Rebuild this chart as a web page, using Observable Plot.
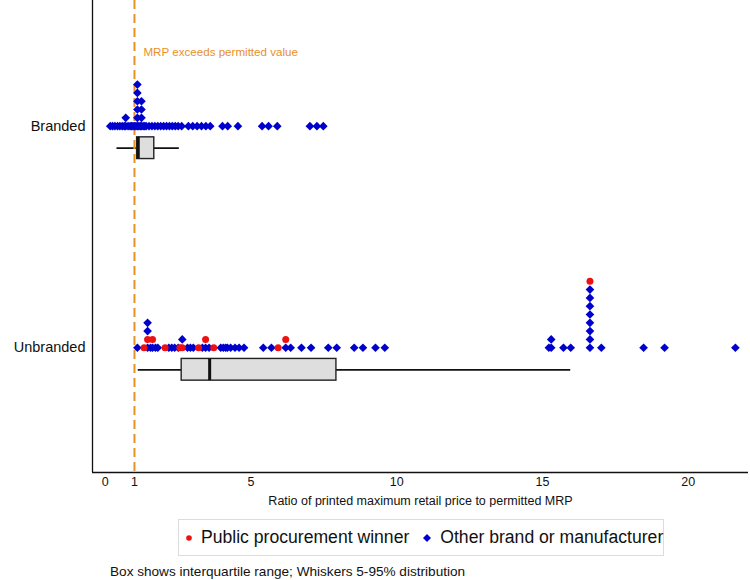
<!DOCTYPE html>
<html>
<head>
<meta charset="utf-8">
<script src="https://cdn.jsdelivr.net/npm/d3@7"></script>
<script src="https://cdn.jsdelivr.net/npm/@observablehq/plot@0.6"></script>
<style>
  html, body { margin: 0; padding: 0; background: #fff; }
  body { font-family: "Liberation Sans", Arial, Helvetica, sans-serif; color: #111; }
  #page { position: relative; width: 750px; height: 580px; }
  #chart { position: absolute; left: 0; top: 0; }
  .legend {
    position: absolute; left: 178px; top: 519px; width: 486px; height: 37px;
    border: 1px solid #dcdcdc; box-sizing: border-box;
    display: flex; align-items: center; font-size: 17.6px; white-space: nowrap;
  }
  .legend .item { display: flex; align-items: center; }
  .legend svg { display: block; }
  .caption { position: absolute; left: 110px; top: 564px; font-size: 13.6px; }
</style>
</head>
<body>
<div id="page">
  <div id="chart"></div>
  <div class="legend" id="legend"></div>
  <div class="caption">Box shows interquartile range; Whiskers 5-95% distribution</div>
</div>
<script>
// Row categories (top to bottom)
const rowNames = ["Branded", "Unbranded"];

// Branded products: ratio of printed MRP to permitted MRP (all other brands)
const brandedRatio = [
  0.17, 0.25, 0.33, 0.42, 0.5, 0.58, 0.65, 0.7, 0.7, 0.78, 0.85, 0.9, 0.95, 1.0, 1.05,
  1.1, 1.1, 1.1, 1.1, 1.1, 1.1, 1.15, 1.2, 1.24, 1.24, 1.24, 1.24,
  1.3, 1.35, 1.4, 1.5, 1.6, 1.7, 1.8, 1.9, 2.0, 2.1, 2.2, 2.3, 2.4, 2.5, 2.62,
  2.85, 3.0, 3.15, 3.3, 3.45, 3.6, 4.02, 4.2, 4.55, 5.38, 5.6, 5.9, 7.02, 7.26, 7.48
];

// Unbranded products: ratio and supplier type, in stacking order
const unbrandedRatio = [
  1.1, 1.33, 1.45, 1.45, 1.45, 1.45, 1.55, 1.62, 1.62, 1.72, 1.8, 2.05,
  2.18, 2.28, 2.38, 2.5, 2.56, 2.64, 2.64, 2.82, 2.92, 3.02, 3.2, 3.33,
  3.44, 3.44, 3.56, 3.72, 3.96, 4.05, 4.13, 4.19, 4.3, 4.45, 4.59, 4.76,
  5.42, 5.7, 5.93, 6.19, 6.19, 6.36, 6.73, 7.06, 7.65, 7.94, 8.54, 8.84,
  9.27, 9.59, 15.22, 15.3, 15.3, 15.72, 15.97,
  16.63, 16.63, 16.63, 16.63, 16.63, 16.63, 16.63, 16.63, 16.63,
  17.02, 18.47, 19.19, 21.62
];
const unbrandedSource = [
  "other", "winner", "other", "winner", "other", "other", "other", "other", "winner", "other", "other", "winner",
  "other", "other", "other", "other", "winner", "winner", "other", "other", "other", "other", "winner", "other",
  "other", "winner", "other", "winner", "other", "other", "other", "other", "other", "other", "other", "other",
  "other", "other", "winner", "other", "winner", "other", "other", "other", "other", "other", "other", "other",
  "other", "other", "other", "other", "other", "other", "other",
  "other", "other", "other", "other", "other", "other", "other", "other", "winner",
  "other", "other", "other", "other"
];

// Box summaries per row: 5th pct, quartiles, median, 95th pct
const boxP5     = [0.40, 1.13];
const boxQ1     = [1.09, 2.62];
const boxMedian = [1.13, 3.58];
const boxQ3     = [1.68, 7.93];
const boxP95    = [2.54, 15.97];

const xTicks = [0, 1, 5, 10, 15, 20];
const permittedRatio = 1;

const sourceLabels = { winner: "Public procurement winner", other: "Other brand or manufacturer" };
const colors = { winner: "#EE1111", other: "#0000CD", threshold: "#E8902A" };

// Layout constants (row units on the vertical scale)
const X_DOMAIN = [-0.44, 22.07];
const Y_DOMAIN = [-0.567, 1.563];
const LEVEL_STEP = 0.0375;   // vertical spacing of stacked identical values
const BOX_OFFSET = 0.0995;   // box sits just below each row of dots
const BOX_HALF = 0.049;

// Stack repeated values upward, in the order given
function stackRow(ratios, sources, row) {
  const seen = new Map();
  return ratios.map((x, i) => {
    const level = seen.get(x) ?? 0;
    seen.set(x, level + 1);
    return { row, x, source: sources[i], level };
  });
}

const points = [
  ...stackRow(brandedRatio, brandedRatio.map(() => "other"), 0),
  ...stackRow(unbrandedRatio, unbrandedSource, 1)
];
const others = points.filter(d => d.source === "other");
const winners = points.filter(d => d.source === "winner");

const boxes = rowNames.map((name, i) => ({
  row: i, p5: boxP5[i], q1: boxQ1[i], median: boxMedian[i], q3: boxQ3[i], p95: boxP95[i]
}));

const dotY = d => d.row - d.level * LEVEL_STEP;
const boxTop = d => d.row + BOX_OFFSET - BOX_HALF;
const boxBottom = d => d.row + BOX_OFFSET + BOX_HALF;

const chart = Plot.plot({
  width: 750,
  height: 507,
  marginLeft: 92,
  marginRight: 2,
  marginTop: 0,
  marginBottom: 35,
  style: { fontFamily: "'Liberation Sans', Arial, Helvetica, sans-serif", fontSize: "12px", background: "#fff", color: "#111" },
  x: { domain: X_DOMAIN },
  y: { domain: Y_DOMAIN, reverse: true },
  marks: [
    // whiskers 5–95%
    Plot.ruleY(boxes, { y: d => d.row + BOX_OFFSET, x1: "p5", x2: "p95", stroke: "#111", strokeWidth: 1.8 }),
    // interquartile box
    Plot.rect(boxes, { x1: "q1", x2: "q3", y1: boxTop, y2: boxBottom, fill: "#dedede", stroke: "#222", strokeWidth: 1.4 }),
    // median
    Plot.ruleX(boxes, { x: "median", y1: boxTop, y2: boxBottom, stroke: "#111", strokeWidth: 3 }),
    // permitted MRP threshold
    Plot.ruleX([permittedRatio], { stroke: colors.threshold, strokeWidth: 2, strokeDasharray: "9,5" }),
    Plot.text([{ x: permittedRatio, label: "MRP exceeds permitted value" }], {
      x: "x", text: "label", frameAnchor: "top", dy: 47, dx: 9, textAnchor: "start",
      fill: colors.threshold, fontSize: 11.6
    }),
    // observations
    Plot.dot(others, { x: "x", y: dotY, symbol: "diamond2", r: 3.9, fill: colors.other, stroke: "none" }),
    Plot.dot(winners, { x: "x", y: dotY, symbol: "circle", r: 3.5, fill: colors.winner, stroke: "none" }),
    // axes
    Plot.axisX(xTicks, { tickSize: 0, tickPadding: 5, fontSize: 12.5, label: "Ratio of printed maximum retail price to permitted MRP", labelAnchor: "center", labelArrow: "none", labelOffset: 32 }),
    Plot.axisY([0, 1], { tickFormat: i => rowNames[i], tickSize: 0, tickPadding: 7, fontSize: 14.5, label: null }),
    Plot.ruleX([X_DOMAIN[0]], { stroke: "#111", strokeWidth: 1.3 }),
    Plot.ruleY([Y_DOMAIN[1]], { stroke: "#111", strokeWidth: 1.3 })
  ]
});
document.getElementById("chart").appendChild(chart);

// Legend
const legend = document.getElementById("legend");
function legendItem(source, symbolSvg, pad) {
  const item = document.createElement("div");
  item.className = "item";
  item.style.marginLeft = pad + "px";
  item.innerHTML = symbolSvg + `<span style="margin-left:8px">${sourceLabels[source]}</span>`;
  legend.appendChild(item);
}
legendItem("winner", `<svg width="8" height="8"><circle cx="4" cy="4" r="2.8" fill="${colors.winner}"/></svg>`, 6);
legendItem("other", `<svg width="10" height="10"><path d="M5,1L9,5L5,9L1,5Z" fill="${colors.other}"/></svg>`, 13);
</script>
</body>
</html>
